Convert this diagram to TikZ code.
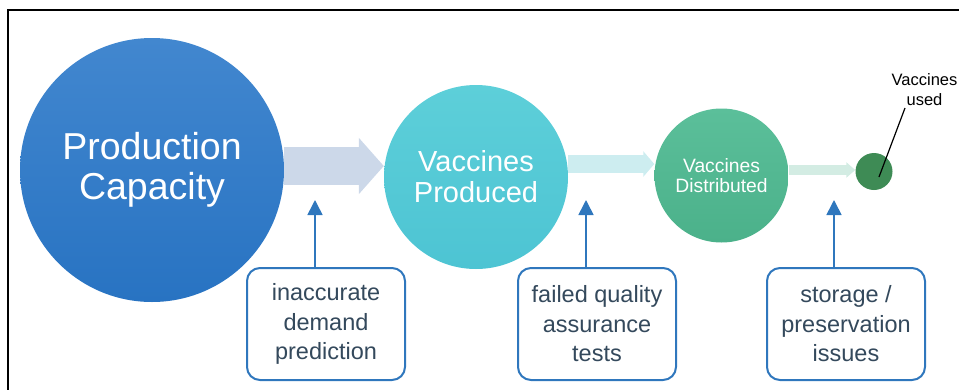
\documentclass[tikz,border=0pt]{standalone}
\usepackage{fontspec}
\setmainfont{Liberation Sans}
\usetikzlibrary{arrows.meta}

\definecolor{capTop}{HTML}{4287CF}
\definecolor{capBot}{HTML}{2873C2}
\definecolor{prodTop}{HTML}{5DCFD9}
\definecolor{prodBot}{HTML}{4DC4D3}
\definecolor{distTop}{HTML}{5BBF9A}
\definecolor{distBot}{HTML}{4BB18A}
\definecolor{usedGreen}{HTML}{3E8B55}
\definecolor{flowA}{HTML}{CCD8E9}
\definecolor{flowB}{HTML}{CDEDF0}
\definecolor{flowC}{HTML}{D3ECE3}
\definecolor{issueBlue}{HTML}{2F77BD}
\definecolor{issueText}{HTML}{34495C}

\tikzset{
  stage/.style={circle, inner sep=0pt, align=center, text=white},
  issuebox/.style={draw=issueBlue, line width=2pt, rounded corners=13pt, fill=white,
    minimum width=158pt, minimum height=112pt, inner sep=0pt, align=center,
    text=issueText, font=\fontsize{23.5}{29.5}\selectfont},
  cause/.style={draw=issueBlue, line width=1.6pt, -{Triangle[width=15pt,length=15pt]}},
}

\begin{document}
\begin{tikzpicture}[x=1pt, y=-1pt]
  \useasboundingbox (0,0) rectangle (959,389);
  % outer frame (runs past the right and bottom edges)
  \draw[line width=2pt] (8,10) rectangle (970,400);

  % stages
  \node[stage, minimum size=264pt, top color=capTop, bottom color=capBot,
        font=\fontsize{37.5}{40}\selectfont] (cap) at (152,170) {Production\\Capacity};
  \node[stage, minimum size=184pt, top color=prodTop, bottom color=prodBot,
        font=\fontsize{29}{31}\selectfont] (prod) at (476,177) {Vaccines\\Produced};
  \node[stage, minimum size=134pt, top color=distTop, bottom color=distBot,
        font=\fontsize{19.3}{20.5}\selectfont] (dist) at (721.5,175.5) {Vaccines\\Distributed};
  \node[stage, minimum size=37pt, fill=usedGreen] (used) at (874,171.5) {};

  % flow arrows between the stages
  \draw[flowA, line width=38pt, -{Triangle[width=55pt,length=25pt]}]
    (cap.east |- 0,166) -- (prod.west |- 0,166);
  \draw[flowB, line width=18pt, -{Triangle[width=25pt,length=11pt]}]
    (prod.east |- 0,164) -- (dist.west |- 0,164);
  \draw[flowC, line width=10pt, -{Triangle[width=15pt,length=9pt]}]
    (dist.east |- 0,170) -- (used.west |- 0,170);

  % label for the last stage
  \node[font=\fontsize{16.5}{20}\selectfont, align=center, inner sep=0pt]
    (usedlbl) at (924.5,90) {Vaccines\\used};
  \coordinate (leadA) at (905,108);
  \coordinate (leadB) at (879,177);
  \draw[line width=1.2pt] (leadA) -- (leadB);

  % issues that reduce the flow
  \node[issuebox] (i1) at (326,324) {inaccurate\\demand\\prediction};
  \node[issuebox] (i2) at (597,324) {failed quality\\assurance\\tests};
  \node[issuebox] (i3) at (846,324) {storage /\\preservation\\issues};

  \coordinate (t1) at (315,200);
  \coordinate (t2) at (586,200);
  \coordinate (t3) at (834,200);
  \draw[cause] (i1.north -| t1) -- (t1);
  \draw[cause] (i2.north -| t2) -- (t2);
  \draw[cause] (i3.north -| t3) -- (t3);
\end{tikzpicture}
\end{document}
